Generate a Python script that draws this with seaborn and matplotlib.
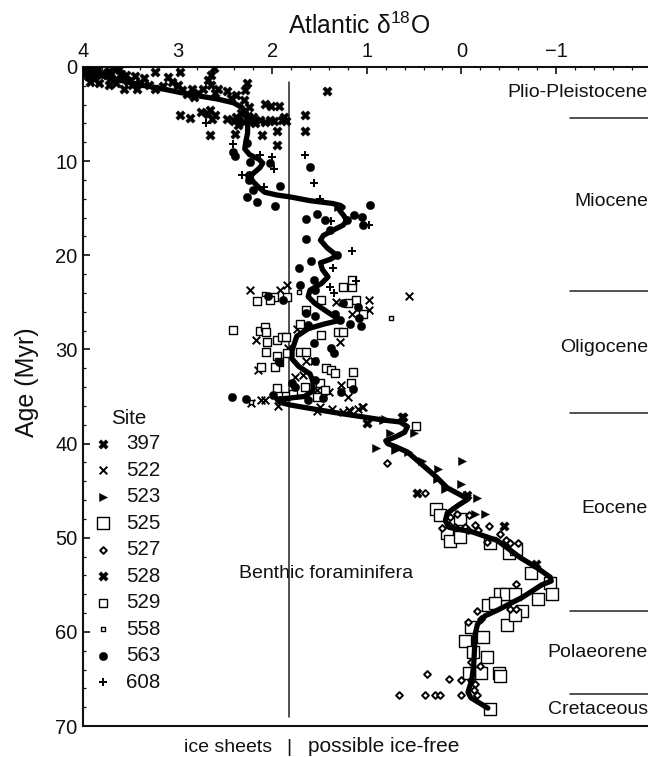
import matplotlib
matplotlib.use("Agg")
import matplotlib.pyplot as plt
import numpy as np
import pandas as pd
import seaborn as sns
from matplotlib.ticker import MultipleLocator

# --- data: (d18O, age) ---
curve = [(4.0,.5),(3.8,.95),(3.61,1.4),(3.42,1.85),(3.22,2.2),(3.0,2.65),(2.76,3.1),(2.58,3.4),(2.41,3.8),(2.32,4.3),(2.27,4.9),(2.26,5.6),(2.26,7.0),(2.28,8.0),(2.29,8.7),(2.24,9.3),(2.14,9.8),(2.10,10.2),(2.13,10.7),(2.2,11.3),(2.23,11.7),(2.2,12.2),(2.14,12.8),(2.08,13.3),(1.95,13.6),(1.81,13.8),(1.6,14.2),(1.36,14.5),(1.28,14.7),(1.25,14.9),(1.29,15.2),(1.25,15.7),(1.21,16.3),(1.25,16.8),(1.35,17.3),(1.46,17.9),(1.49,18.4),(1.42,19.2),(1.32,20.0),(1.38,20.4),(1.49,20.8),(1.47,21.5),(1.41,22.3),(1.48,23.0),(1.60,23.7),(1.62,24.4),(1.55,25.1),(1.42,26),(1.28,26.9),(1.45,27.3),(1.62,27.8),(1.74,28.6),(1.79,30.1),(1.79,31),(1.72,31.8),(1.6,32.6),(1.57,33.4),(1.57,34.4),(1.66,35.0),(1.95,35.3),(1.92,35.6),(1.81,35.9),(1.55,36.35),(1.28,36.8),(1.05,37.15),(.83,37.5),(.65,37.7),(.57,38.2),(.6,38.8),(.7,39.3),(.8,39.7),(.78,40.0),(.68,40.4),(.57,40.9),(.42,42.2),(.26,43.6),(.15,44.7),(.02,45.4),(-.07,45.9),(.04,46.6),(.15,47.4),(.17,48.2),(.13,48.9),(-.12,49.4),(-.38,50.3),(-.62,52.1),(-.8,53.2),(-.94,54.2),(-.95,54.6),(-.85,55.0),(-.65,56.3),(-.38,57.7),(-.25,58.3),(-.17,59.2),(-.14,60.5),(-.14,61.6),(-.13,63.5),(-.11,65.1),(-.07,66.4),(-.1,67.0),(-.28,68.1)]

s397 = [(3.94,.5),(3.93,1.6),(3.86,.85),(3.73,1.9),(3.66,.3),(3.59,1.2),(3.57,2.3),(3.43,2.3),(3.36,1.2),(3.24,.5),(3.24,2.3),(3.06,1.6),(2.97,.5),(2.85,2.3),(2.83,3.2),(2.73,2.3),(2.68,1.4),(2.62,.15),(2.57,2.3),(2.48,2.6),(2.38,3.0),(2.29,2.4),(2.27,1.7),(2.25,4.2),(2.2,5.3),(3.98,.2),(3.9,.3),(3.8,.6),(3.75,.9),(3.7,1.2),(3.6,.7),(3.52,1.5),(3.48,1.9),(3.95,1.0),(3.88,1.3),(3.83,1.7),(3.65,1.7),(3.3,1.9),(3.15,2.0),(3.0,1.9),(2.95,2.4),(2.78,2.8),(1.42,2.6),(3.97,.6),(3.84,.25),(3.72,.4),(3.62,.25),(3.55,.8),(3.45,1.0),(3.4,1.7),(3.1,1.1),(2.9,2.9),(2.65,1.9),(2.6,2.8),(2.44,3.3),(2.3,3.5),(2.65,.9)]
s528 = [(2.97,5.1),(2.87,5.4),(2.75,4.75),(2.66,4.6),(2.64,5.5),(2.48,5.5),(2.38,5.3),(2.36,6.2),(2.39,7.1),(2.66,7.2),(2.11,7.2),(2.08,3.9),(2.01,4.1),(1.93,4.1),(1.95,6.8),(1.95,8.3),(1.88,5.3),(2.02,5.6),(2.13,5.6),(1.65,5.1),(1.65,6.8),(.62,37.2),(1.0,37.8),(.47,45.2),(-.06,45.5),(-.45,48.8),(-.79,52.8),(.63,37.2),(2.3,5.8),(2.2,5.7),(2.26,5.2),(2.68,5.0),(2.6,5.1),(2.4,5.7),(2.36,5.6),(2.25,5.5),(2.18,5.9),(2.08,5.8),(1.98,5.7),(1.9,5.6),(1.85,5.7),(2.33,4.9)]
s522 = [(2.23,23.7),(1.92,23.7),(1.84,23.2),(.55,24.3),(.98,24.7),(.98,25.8),(1.33,25),(1.16,26.2),(2.17,29),(1.74,27.8),(1.28,29.2),(1.83,29.9),(2.15,32.2),(1.64,31.2),(1.56,31.2),(1.76,32.9),(1.67,32.7),(1.27,33.8),(1.4,34.5),(1.2,35.1),(1.53,34.3),(2.12,35.4),(2.08,35.4),(2.22,35.7),(1.94,36),(1.49,36.1),(1.37,36.3),(1.19,36.4),(1.09,36.3),(1.04,36.1),(1.0,37.8),(1.53,36.5),(1.25,36.6),(1.18,36.5),(1.05,36.1)]
s523 = [(.81,37.4),(.75,38.9),(.5,38.9),(.9,40.5),(.7,40.7),(.56,40.9),(.42,41.9),(.25,42.7),(.26,43.8),(.17,44.8),(-.01,41.8),(0,44.3),(-.06,45.5),(-.16,45.8),(-.25,47.5),(-.14,47.5),(.03,47.5),(.83,37.5),(1.3,14.9)]
s525 = [(.27,46.9),(.23,47.6),(.01,48),(.15,49.5),(.12,50.3),(.01,49.9),(-.3,50.6),(-.5,51.6),(-.58,51.2),(-.74,53.7),(-.94,54.8),(-.41,56),(-.47,56),(-.57,56),(-.81,56.5),(-.96,56),(-.28,57.1),(-.48,59.3),(-.64,57.8),(-.57,58.2),(-.1,59.5),(-.23,60.5),(-.04,61),(-.12,62.1),(-.27,62.7),(-.21,64.4),(-.08,64.4),(-.3,68.2),(-.4,64.4),(-.41,64.7),(-.35,56.9)]
s527 = [(-.58,54.9),(-.16,57.8),(-.07,59),(-.51,57.6),(-.58,57.6),(-.21,58.6),(-.1,63.2),(-.2,63.6),(.36,64.5),(.13,65),(0,65.1),(-.1,65.1),(-.14,65.5),(.66,66.7),(.38,66.7),(.28,66.7),(.23,66.7),(0,66.7),(-.16,66.7),(-.13,66.2),(.79,42.1),(.38,45.2),(-.08,47.6),(.05,47.5),(.12,47.8),(.21,49),(.13,48.6),(.07,48.9),(-.04,48.9),(-.07,49.2),(-.14,48.6),(-.18,49.2),(-.29,48.8),(-.41,49.6),(-.47,50.2),(-.51,50.6),(-.6,50.6),(-.27,50.5)]
s529 = [(2.41,27.9),(2.13,28),(2.08,27.6),(2.07,28.2),(2.05,29.2),(1.95,29),(1.9,28.7),(1.85,28.7),(2.07,30.3),(1.95,30.7),(1.93,31.3),(1.97,31.9),(2.12,31.9),(1.84,30.4),(1.71,30.3),(1.64,30.3),(1.95,34.1),(1.71,27.3),(1.64,25.8),(1.48,24.7),(1.25,23.4),(1.16,23.4),(1.16,22.6),(1.84,24.4),(1.98,24.4),(2.02,24.8),(2.16,24.9),(1.11,24.8),(1.2,25.1),(1.04,26.2),(1.3,28.1),(1.25,28.2),(1.48,28.5),(1.43,32),(1.38,32.2),(1.34,32.5),(1.15,32.4),(1.17,33.6),(1.49,33.6),(1.44,34.3),(1.65,34),(1.85,34.9),(1.78,34.7),(1.53,35),(.48,38.1)]
s558 = [(.74,26.7),(2.09,24.1),(1.72,23.9),(2.22,35.6)]
s563 = [(2.39,9.5),(2.41,9.0),(2.27,8.1),(2.23,10.1),(2.02,10.2),(2.25,11.5),(2.24,12),(2.2,13.1),(2.27,13.8),(2.16,14.3),(1.97,14.8),(1.92,12.6),(1.6,10.6),(1.64,16.1),(1.53,15.6),(1.44,16.3),(.97,14.7),(1.05,15.9),(1.04,16.8),(1.14,15.7),(1.21,16.3),(1.39,17.3),(1.64,18.3),(1.32,20),(1.59,20.6),(1.72,21.3),(1.56,22.6),(1.71,23.2),(2.04,24.3),(1.89,24.7),(1.55,23.7),(1.25,25.1),(1.09,25.5),(1.64,26.1),(1.55,26.5),(1.34,26.2),(1.08,26.7),(1.18,27.3),(1.06,27.5),(1.28,26.9),(1.62,27.4),(1.56,29.3),(1.38,29.8),(1.35,30.4),(1.55,31.2),(1.93,31.3),(1.79,33.6),(1.76,34),(1.55,33.3),(1.27,34.5),(1.15,34.2),(1.46,35.2),(1.62,35.4),(2.43,35.1),(2.28,35.3),(1.99,34.8),(1.92,35.4)]
s608 = [(.98,16.8),(1.38,16.4),(1.16,19.5),(1.36,21.4),(1.39,23.4),(1.35,24),(1.49,14),(1.11,22.7),(2.41,8.2),(2.32,11.5),(2.13,9.3),(2.0,9.6),(1.98,10.8),(2.09,12.7),(1.65,9.4),(1.56,12.3),(2.7,6)]

site_names = ["397","522","523","525","527","528","529","558","563","608"]
site_values = [s397,s522,s523,s525,s527,s528,s529,s558,s563,s608]
site_marker = ["X","x",">","s","D","X","s","s","o","+"]
site_size   = [46,30,34,80,12,46,28,11,36,30]

epoch_names = ["Plio-Pleistocene","Miocene","Oligocene","Eocene","Polaeorene","Cretaceous"]
epoch_label_age = [2.7,14.3,29.8,46.9,62.2,68.3]
epoch_bound_age = [5.4,23.8,36.7,57.8,66.6]

sns.set_theme(style="ticks")
plt.rcParams["font.family"] = ["Liberation Sans", "DejaVu Sans"]
plt.rcParams["mathtext.fontset"] = "custom"
plt.rcParams["mathtext.rm"] = "Liberation Sans"
plt.rcParams["mathtext.default"] = "regular"
plt.rcParams["text.color"] = "#111111"

W, H = 648, 757
fig = plt.figure(figsize=(W/100, H/100), dpi=100, facecolor="white")
ax = fig.add_axes([83/W, 1-726/H, (W-83)/W, (726-67)/H])

for name, vals, m, s in zip(site_names, site_values, site_marker, site_size):
    df = pd.DataFrame(vals, columns=["d18O", "age"])
    if m in ("X", "o", ">"):
        kw = dict(color="black", edgecolor="black", linewidth=0.3)
    elif m in ("x", "+"):
        kw = dict(color="black", linewidth=1.4)
    else:
        kw = dict(facecolor="white", edgecolor="black", linewidth=1.4 if m == "D" else 1.0)
    sns.scatterplot(data=df, x="d18O", y="age", marker=m, s=s, ax=ax, label=name,
                    zorder=3, **kw)

curve_df = pd.DataFrame(curve, columns=["d18O", "age"])
sns.lineplot(data=curve_df, x="d18O", y="age", sort=False, estimator=None, color="black",
             linewidth=3.8, ax=ax, zorder=4, legend=False,
             solid_joinstyle="round", solid_capstyle="round")

ax.plot([1.82, 1.82], [1.6, 69], color="#222222", lw=1.1, zorder=2)

ax.set_xlim(4, 4 - (W-83)/94.6)
ax.set_ylim(70, 0)
ax.xaxis.tick_top()
ax.xaxis.set_label_position("top")
ax.set_xticks([4, 3, 2, 1, 0, -1])
ax.set_xticklabels(["4", "3", "2", "1", "0", "\u22121"])
ax.xaxis.set_minor_locator(MultipleLocator(0.2))
ax.yaxis.set_major_locator(MultipleLocator(10))
ax.yaxis.set_minor_locator(MultipleLocator(2))
ax.tick_params(axis="both", which="major", direction="in", length=5, width=1.2, labelsize=14.5, pad=4, colors="#111111")
ax.tick_params(axis="both", which="minor", direction="in", length=2.5, width=0.9, colors="#111111")
ax.spines["right"].set_visible(False)
for sp in ("top", "left", "bottom"):
    ax.spines[sp].set_linewidth(1.5)
    ax.spines[sp].set_color("#111111")

ax.set_xlabel("")
ax.set_ylabel("")
fig.text(359/W, 1-26/H, r"Atlantic $\delta^{18}$O", fontsize=17.8, ha="center", va="center")
fig.text(27/W, 1-382/H, "Age (Myr)", fontsize=18, rotation=90, ha="center", va="center")

x_right = ax.get_xlim()[1]
x_bound_start = 4 - (570-83)/94.6
for nm, a in zip(epoch_names, epoch_label_age):
    ax.text(x_right, a, nm, ha="right", va="center", fontsize=14, clip_on=False)
for a in epoch_bound_age:
    ax.plot([x_bound_start, x_right], [a, a], color="#222222", lw=1.1, clip_on=False)

ax.text(2.35, 53.8, "Benthic foraminifera", ha="left", va="center", fontsize=14)
fig.text(272/W, 1-748/H, "ice sheets", ha="right", va="center", fontsize=14)
fig.text(289/W, 1-747/H, "|", ha="center", va="center", fontsize=14)
fig.text(308/W, 1-747/H, "possible ice-free", ha="left", va="center", fontsize=15)
fig.text(111/W, 1-418/H, "Site", ha="left", va="center", fontsize=14.8)

leg = ax.legend(loc="upper left", bbox_to_anchor=(0.007, 0.443), frameon=False,
                fontsize=14.8, labelspacing=0.365, handlelength=1.6, handletextpad=0.3,
                borderpad=0, borderaxespad=0)
for t in leg.get_texts():
    t.set_color("#111111")

fig.savefig("out.png", dpi=100, facecolor="white")
